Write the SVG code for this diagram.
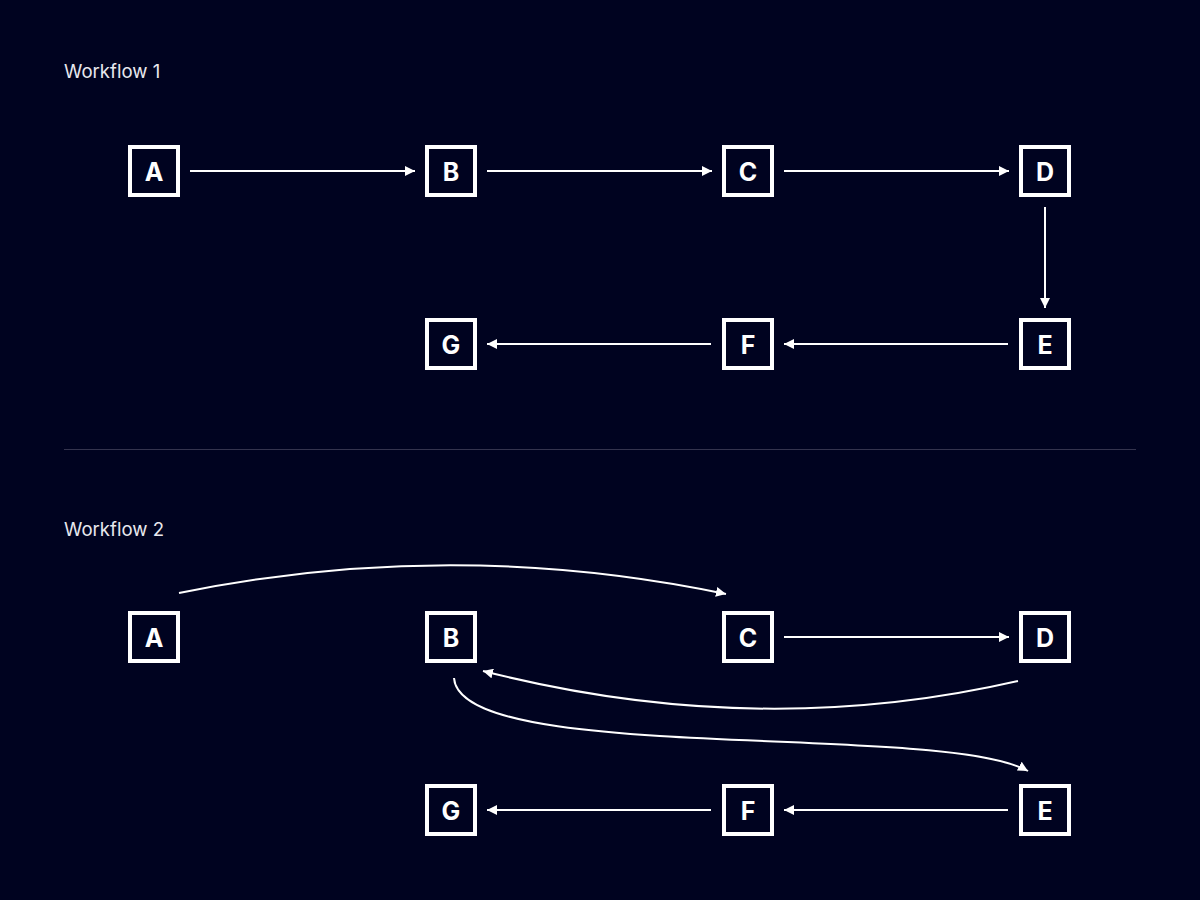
<svg xmlns="http://www.w3.org/2000/svg" width="1200" height="900" viewBox="0 0 1200 900">
<style>
.title{font-family:Inter,"Noto Sans",sans-serif;font-size:18.6px;fill:#e8e8ee}
.box{fill:none;stroke:#ffffff;stroke-width:4}
.lbl{font-family:Inter,"Noto Sans",sans-serif;font-size:25px;font-weight:700;fill:#ffffff;text-anchor:middle;dominant-baseline:central}
.edge{fill:none;stroke:#ffffff;stroke-width:2}
</style>
<defs>
<marker id="ah" viewBox="0 0 10 10" refX="10" refY="5" markerWidth="10" markerHeight="10" markerUnits="userSpaceOnUse" orient="auto">
<path d="M0,0 L10,5 L0,10 z" fill="#ffffff"/>
</marker>
</defs>
<rect width="1200" height="900" fill="#000320"/>
<text class="title" x="64" y="78">Workflow 1</text>
<text class="title" x="64" y="536">Workflow 2</text>
<line x1="64" y1="449.5" x2="1136" y2="449.5" stroke="#34344e" stroke-width="1"/>

<g id="w1-A"><rect class="box" x="130" y="147" width="48" height="48"/><text class="lbl" x="154" y="172">A</text></g>
<g id="w1-B"><rect class="box" x="427" y="147" width="48" height="48"/><text class="lbl" x="451" y="172">B</text></g>
<g id="w1-C"><rect class="box" x="724" y="147" width="48" height="48"/><text class="lbl" x="748" y="172">C</text></g>
<g id="w1-D"><rect class="box" x="1021" y="147" width="48" height="48"/><text class="lbl" x="1045" y="172">D</text></g>
<g id="w1-E"><rect class="box" x="1021" y="320" width="48" height="48"/><text class="lbl" x="1045" y="345">E</text></g>
<g id="w1-F"><rect class="box" x="724" y="320" width="48" height="48"/><text class="lbl" x="748" y="345">F</text></g>
<g id="w1-G"><rect class="box" x="427" y="320" width="48" height="48"/><text class="lbl" x="451" y="345">G</text></g>

<g id="w2-A"><rect class="box" x="130" y="613" width="48" height="48"/><text class="lbl" x="154" y="638">A</text></g>
<g id="w2-B"><rect class="box" x="427" y="613" width="48" height="48"/><text class="lbl" x="451" y="638">B</text></g>
<g id="w2-C"><rect class="box" x="724" y="613" width="48" height="48"/><text class="lbl" x="748" y="638">C</text></g>
<g id="w2-D"><rect class="box" x="1021" y="613" width="48" height="48"/><text class="lbl" x="1045" y="638">D</text></g>
<g id="w2-E"><rect class="box" x="1021" y="786" width="48" height="48"/><text class="lbl" x="1045" y="811">E</text></g>
<g id="w2-F"><rect class="box" x="724" y="786" width="48" height="48"/><text class="lbl" x="748" y="811">F</text></g>
<g id="w2-G"><rect class="box" x="427" y="786" width="48" height="48"/><text class="lbl" x="451" y="811">G</text></g>

<g id="connectors">
<line class="edge" x1="190" y1="171" x2="415" y2="171" marker-end="url(#ah)"/>
<line class="edge" x1="487" y1="171" x2="712" y2="171" marker-end="url(#ah)"/>
<line class="edge" x1="784" y1="171" x2="1009" y2="171" marker-end="url(#ah)"/>
<line class="edge" x1="1045" y1="207" x2="1045" y2="308" marker-end="url(#ah)"/>
<line class="edge" x1="1008" y1="344" x2="784" y2="344" marker-end="url(#ah)"/>
<line class="edge" x1="711" y1="344" x2="487" y2="344" marker-end="url(#ah)"/>

<path class="edge" d="M179,593 Q453,537 726,594" marker-end="url(#ah)"/>
<line class="edge" x1="784" y1="637" x2="1009" y2="637" marker-end="url(#ah)"/>
<path class="edge" d="M1018,681 Q757,741 483,671" marker-end="url(#ah)"/>
<path class="edge" d="M454,678 C460,765 940,722 1028,771" marker-end="url(#ah)"/>
<line class="edge" x1="1008" y1="810" x2="784" y2="810" marker-end="url(#ah)"/>
<line class="edge" x1="711" y1="810" x2="487" y2="810" marker-end="url(#ah)"/>
</g>
</svg>
